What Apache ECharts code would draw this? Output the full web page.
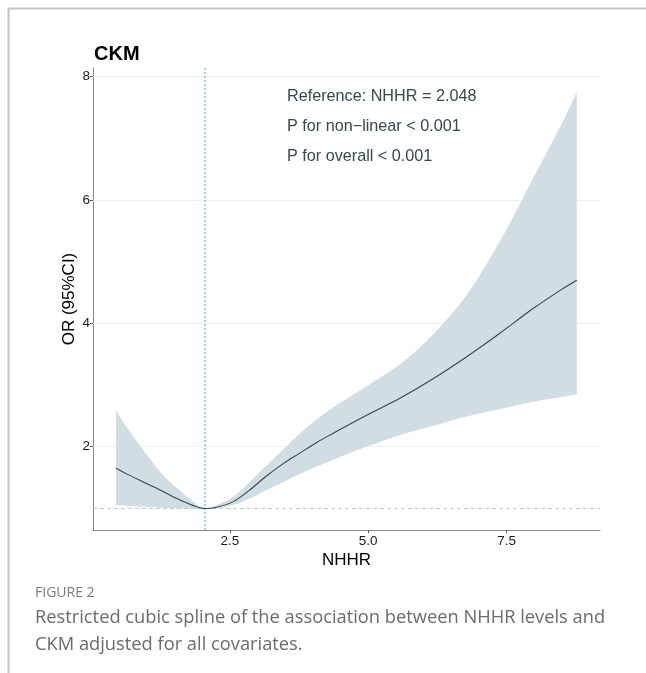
<!DOCTYPE html>
<html>
<head>
<meta charset="utf-8">
<script src="https://cdn.jsdelivr.net/npm/echarts@6/dist/echarts.min.js"></script>
<style>
html,body{margin:0;padding:0;background:#fff;}
#chart{width:646px;height:673px;}
</style>
</head>
<body>
<div id="chart"></div>
<script>
// NHHR values (x) and OR estimates with 95% CI
const nhhr  = [0.44, 0.63, 0.93, 1.235, 1.54, 1.84, 2.03, 2.26, 2.56, 2.86, 3.16, 3.47, 3.77, 4.07, 4.37, 4.97, 5.58, 6.15, 6.78, 7.38, 7.98, 8.53, 8.77];
const orEst = [1.65, 1.56, 1.43, 1.30, 1.16, 1.045, 1.00, 1.02, 1.11, 1.30, 1.525, 1.73, 1.90, 2.07, 2.22, 2.51, 2.79, 3.09, 3.46, 3.84, 4.24, 4.57, 4.70];
const orLow = [1.055, 1.045, 1.03, 1.01, 1.00, 0.995, 1.00, 1.00, 1.055, 1.16, 1.30, 1.43, 1.56, 1.68, 1.79, 2.00, 2.19, 2.33, 2.49, 2.61, 2.73, 2.81, 2.85];
const orUp  = [2.59, 2.32, 1.95, 1.595, 1.33, 1.11, 1.00, 1.055, 1.19, 1.43, 1.70, 1.96, 2.22, 2.44, 2.64, 2.98, 3.34, 3.80, 4.46, 5.33, 6.35, 7.29, 7.75];
const xTicks = [2.5, 5.0, 7.5];
const yTicks = [2, 4, 6, 8];
const refValue = 2.048;
const annotations = ['Reference: NHHR = 2.048', 'P for non\u2212linear < 0.001', 'P for overall < 0.001'];

const chart = echarts.init(document.getElementById('chart'), null, {renderer: 'canvas'});
const font = 'Liberation Sans, Arial, Helvetica, sans-serif';

const bandData = nhhr.map((x, i) => [x, orLow[i], orUp[i]]);
const estData = nhhr.map((x, i) => [x, orEst[i]]);

// Catmull-Rom style bezier path through pixel points (rendering smoothing only)
function smoothSegs(pts, t) {
  let d = '';
  for (let i = 0; i < pts.length - 1; i++) {
    const p0 = pts[Math.max(i - 1, 0)], p1 = pts[i], p2 = pts[i + 1], p3 = pts[Math.min(i + 2, pts.length - 1)];
    const c1x = p1[0] + (p2[0] - p0[0]) * t, c1y = p1[1] + (p2[1] - p0[1]) * t;
    const c2x = p2[0] - (p3[0] - p1[0]) * t, c2y = p2[1] - (p3[1] - p1[1]) * t;
    d += ' C' + c1x + ' ' + c1y + ' ' + c2x + ' ' + c2y + ' ' + p2[0] + ' ' + p2[1];
  }
  return d;
}

function renderBand(params, api) {
  if (params.dataIndex !== 0) return null;
  const up = bandData.map(d => api.coord([d[0], d[2]]));
  const lo = bandData.map(d => api.coord([d[0], d[1]])).reverse();
  let path = 'M' + up[0][0] + ' ' + up[0][1] + smoothSegs(up, 1 / 6);
  path += ' L' + lo[0][0] + ' ' + lo[0][1] + smoothSegs(lo, 1 / 6) + ' Z';
  return {
    type: 'path',
    shape: {pathData: path},
    style: {fill: '#d1dce3', stroke: null}
  };
}

function renderLine(params, api) {
  if (params.dataIndex !== 0) return null;
  const pts = estData.map(d => api.coord(d));
  const path = 'M' + pts[0][0] + ' ' + pts[0][1] + smoothSegs(pts, 1 / 6);
  return {
    type: 'path',
    shape: {pathData: path},
    style: {fill: null, stroke: '#2f4a4f', lineWidth: 1.1}
  };
}

const option = {
  animation: false,
  backgroundColor: '#fff',
  grid: {left: 93, right: 46, top: 68, bottom: 143, containLabel: false},
  xAxis: {
    type: 'value', min: 0.024, max: 9.19,
    name: 'NHHR', nameLocation: 'middle', nameGap: 22, nameMoveOverlap: false,
    nameTextStyle: {fontFamily: font, fontSize: 17, color: '#000'},
    axisLine: {show: true, lineStyle: {color: '#888', width: 1}},
    axisTick: {show: true, length: 3, lineStyle: {color: '#555'}, customValues: xTicks},
    axisLabel: {customValues: xTicks, formatter: v => v.toFixed(1), fontFamily: font, fontSize: 13.5, color: '#1a1a1a', margin: 4},
    splitLine: {show: false}
  },
  yAxis: {
    type: 'value', min: 0.65, max: 8.14,
    name: 'OR (95%CI)', nameLocation: 'middle', nameGap: 15, nameRotate: 90, nameMoveOverlap: false,
    nameTextStyle: {fontFamily: font, fontSize: 17, color: '#000'},
    axisLine: {show: true, lineStyle: {color: '#888', width: 1}},
    axisTick: {show: true, length: 3, lineStyle: {color: '#555'}, customValues: yTicks},
    axisLabel: {customValues: yTicks, formatter: v => String(v), fontFamily: font, fontSize: 13.5, color: '#1a1a1a', margin: 3},
    splitLine: {show: false}
  },
  series: [
    {
      type: 'custom', name: '95% CI', data: bandData, renderItem: renderBand,
      encode: {x: 0, y: [1, 2]}, silent: true, z: 3, clip: true,
      markLine: {
        silent: true, symbol: 'none', label: {show: false}, z: 1,
        lineStyle: {color: '#efefef', width: 1, type: 'solid'},
        data: yTicks.map(v => ({yAxis: v}))
      }
    },
    {
      type: 'custom', name: 'OR', data: estData, renderItem: renderLine,
      encode: {x: 0, y: 1}, z: 5, clip: true,
      markLine: {
        silent: true, symbol: 'none', label: {show: false},
        data: [
          {yAxis: 1, lineStyle: {color: '#bdbdbd', width: 0.8, type: [4, 3]}},
          {xAxis: refValue, lineStyle: {color: '#7fc4e6', width: 1.5, type: [2, 2]}}
        ]
      }
    }
  ],
  graphic: [
    {type: 'line', shape: {x1: 8, y1: 8.5, x2: 646, y2: 8.5}, style: {stroke: '#c4c4c4', lineWidth: 2}},
    {type: 'line', shape: {x1: 8.5, y1: 8, x2: 8.5, y2: 673}, style: {stroke: '#c4c4c4', lineWidth: 2}},
    {type: 'text', left: 94, top: 44, style: {text: 'CKM', font: 'bold 20px ' + font, fill: '#000'}},
    {type: 'text', left: 287, top: 89, style: {text: annotations[0], font: '16.2px ' + font, fill: '#34494e'}},
    {type: 'text', left: 287, top: 119, style: {text: annotations[1], font: '16.2px ' + font, fill: '#34494e'}},
    {type: 'text', left: 287, top: 149, style: {text: annotations[2], font: '16.2px ' + font, fill: '#34494e'}},
    {type: 'text', left: 35, top: 586, style: {text: 'FIGURE 2', font: '14px "Open Sans", sans-serif', fill: '#7a7a7a'}},
    {type: 'text', left: 35, top: 609, style: {text: 'Restricted cubic spline of the association between NHHR levels and', font: '18.3px "Open Sans", sans-serif', fill: '#6b6b6b'}},
    {type: 'text', left: 35, top: 636, style: {text: 'CKM adjusted for all covariates.', font: '18.3px "Open Sans", sans-serif', fill: '#6b6b6b'}}
  ]
};
chart.setOption(option);
</script>
</body>
</html>
